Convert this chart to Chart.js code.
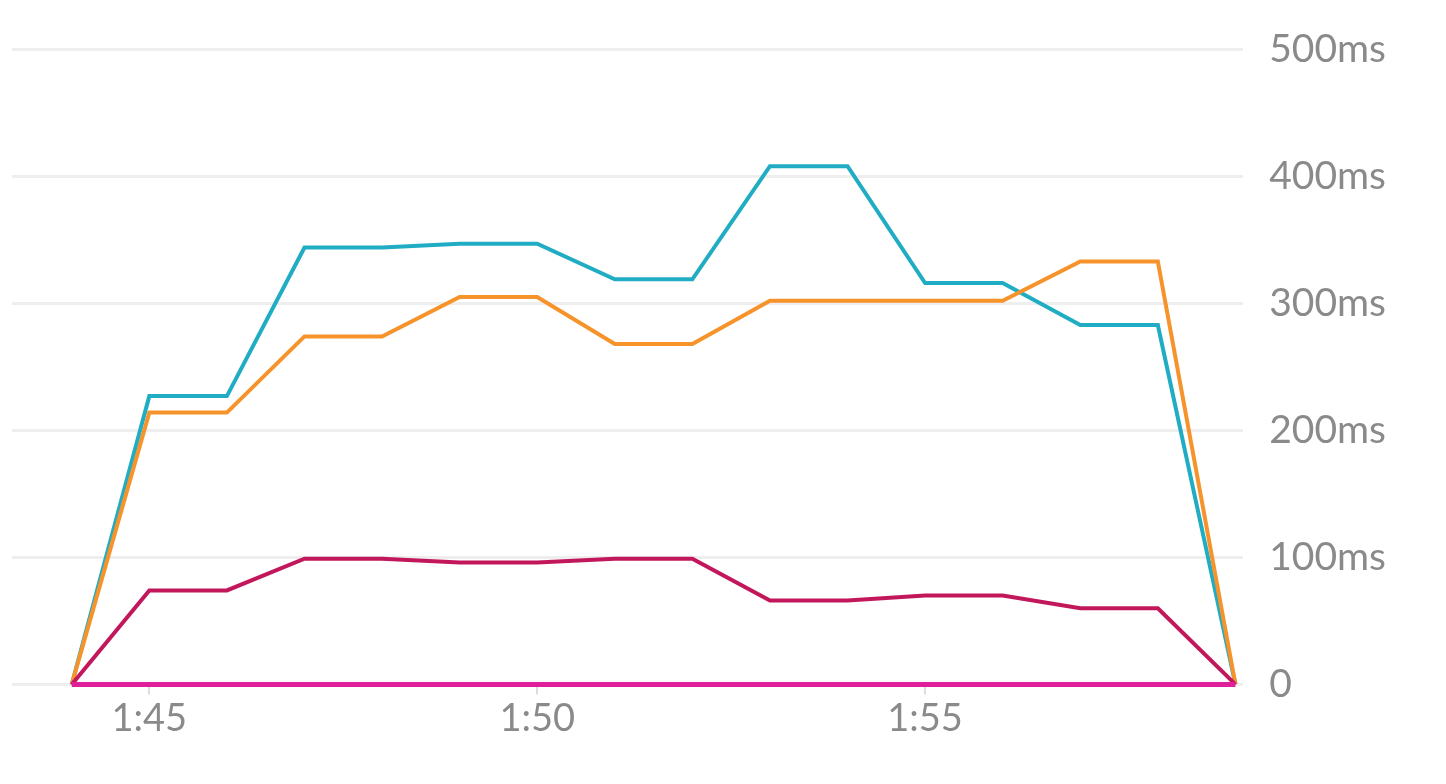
<!DOCTYPE html>
<html><head><meta charset="utf-8">
<script src="https://cdn.jsdelivr.net/npm/chart.js@4"></script>
<style>html,body{margin:0;background:#fff}#w{width:1446px;height:784px}</style>
</head><body><div id="w"><canvas id="c"></canvas></div>
<script>
const minutes=[44,45,46,47,48,49,50,51,52,53,54,55,56,57,58,59];
const tickMinutes=[45,50,55];
const cyan=[0,227,227,344,344,347,347,319,319,408,408,316,316,283,283,0];
const orange=[0,214,214,274,274,305,305,268,268,302,302,302,302,333,333,0];
const crimson=[0,74,74,99,99,96,96,99,99,66,66,70,70,60,60,0];
const magenta=[0,0,0,0,0,0,0,0,0,0,0,0,0,0,0,0];
const pts=a=>a.map((v,i)=>({x:minutes[i],y:v}));
const ds=(d,c,w)=>({data:pts(d),borderColor:c,borderWidth:w,pointRadius:0,tension:0,fill:false,clip:false});
new Chart(document.getElementById('c'),{type:'line',
data:{datasets:[ds(magenta,'#e0209a',5),ds(crimson,'#c2185b',4),ds(orange,'#f7932b',4),ds(cyan,'#20adc3',4)]},
options:{responsive:true,maintainAspectRatio:false,animation:false,
layout:{padding:{left:12,right:34,top:38,bottom:40}},
plugins:{legend:{display:false},tooltip:{enabled:false}},
scales:{
x:{type:'linear',min:43.23,max:59.1,afterBuildTicks:s=>{s.ticks=tickMinutes.map(v=>({value:v}));},
ticks:{callback:v=>'1:'+v,color:'#8a8a8a',font:{family:'Lato',size:38},padding:2},
grid:{drawOnChartArea:false,tickLength:10,color:'#ddd',lineWidth:2},border:{display:false}},
y:{position:'right',min:0,max:500,ticks:{stepSize:100,callback:v=>v===0?'0':v+'ms',color:'#8a8a8a',font:{family:'Lato',size:39},padding:26},
grid:{color:'#eeeeee',lineWidth:3,drawTicks:false},border:{display:false}}}}});
</script></body></html>
